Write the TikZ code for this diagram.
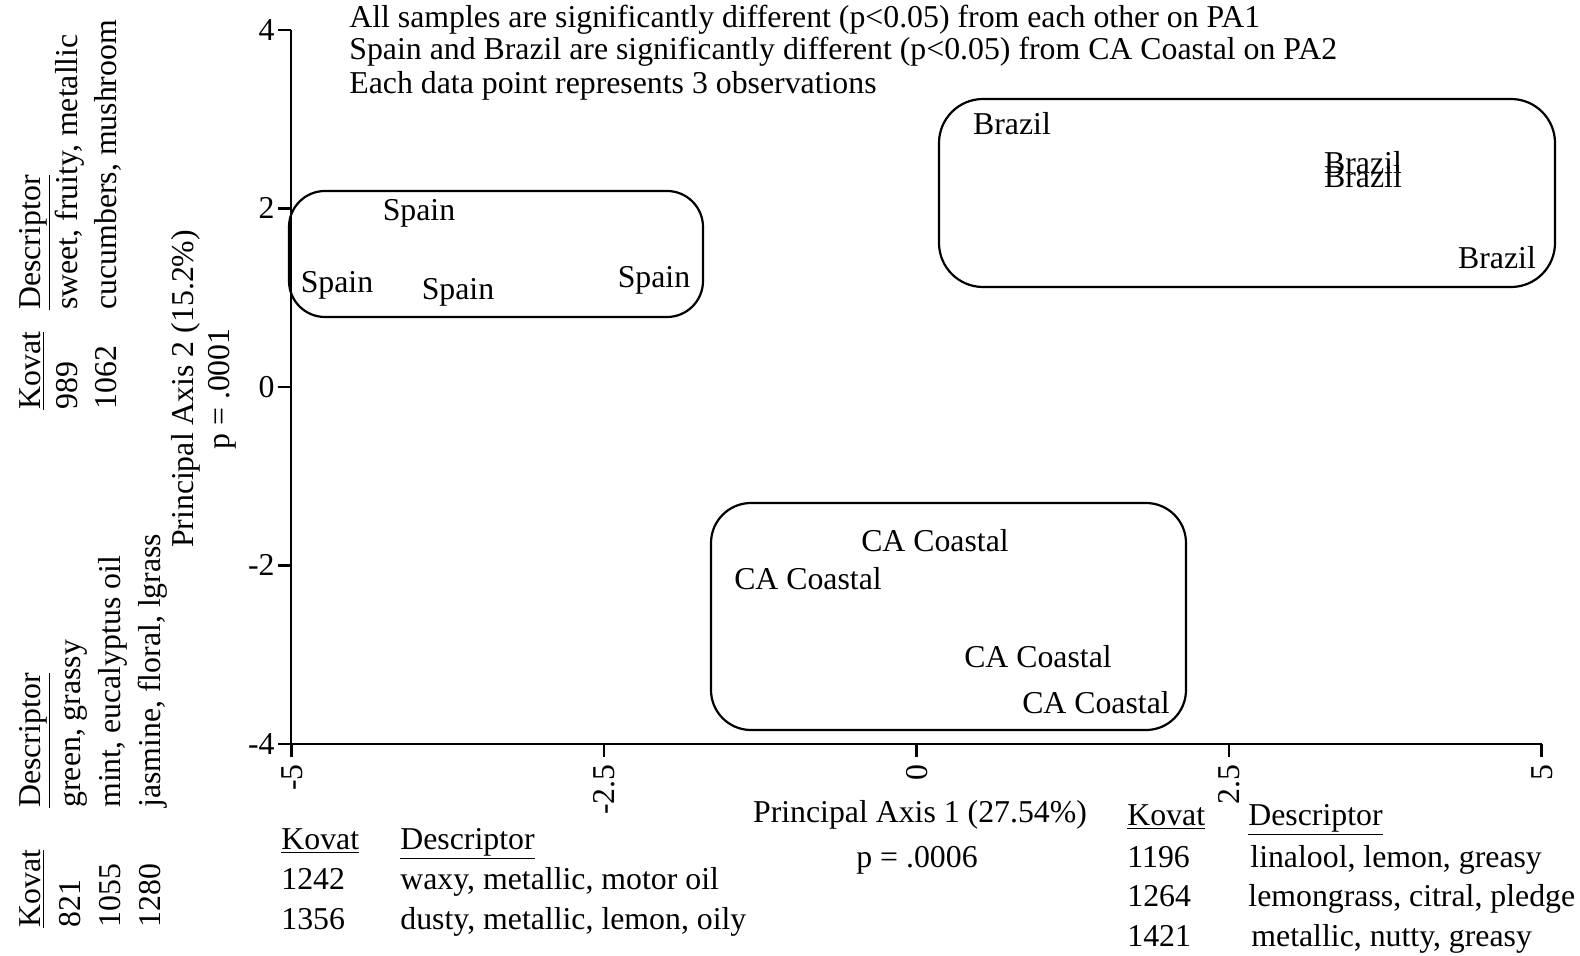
\documentclass[tikz,border=0pt]{standalone}
\usepackage{fontspec}
\setmainfont{Liberation Serif}
\begin{document}
\begin{tikzpicture}[x=0.5pt,y=-0.5pt,
  txt/.style={inner sep=0pt,text height=11pt,text depth=3pt,font=\fontsize{15.9}{16}\selectfont},
  lbl/.style={txt,anchor=west},
  rlbl/.style={txt,anchor=west,rotate=90},
  axisline/.style={line width=1.3pt},
  grp/.style={line width=1.1pt,rounded corners=18pt}]
\useasboundingbox (0,0) rectangle (1580,956);
% axes
\coordinate (o) at (291,744);
\coordinate (ytop) at (291,30);
\coordinate (xend) at (1542,744);
\draw[axisline] (ytop) -- (o) -- (xend);
% y ticks
\foreach \v/\t in {4/4,2/2,0/0,-2/-2,-4/-4}{
  \coordinate (yt\t) at (291,387-89.25*\v);
  \draw[axisline] (yt\t) -- ++(-13,0);
  \node[txt,anchor=east] (ylab\t) at (275,389.5-89.25*\v) {\t};
}
% x ticks
\foreach \u/\t/\n in {-5/-5/a,-2.5/-2.5/b,0/0/c,2.5/2.5/d,5/5/e}{
  \coordinate (xt\n) at (916.5+125*\u,744);
  \draw[axisline] (xt\n) -- ++(0,13);
  \node[txt,anchor=east,rotate=90] (xlab\n) at (919+125*\u,764) {\t};
}
% group boxes
\draw[grp] (289,191) rectangle (703,317);
\draw[grp,rounded corners=22pt] (939,99) rectangle (1555,287);
\draw[grp,rounded corners=20pt] (711,503) rectangle (1186,730);
% points
\node[txt] (s1) at (419,213) {Spain};
\node[txt] (s2) at (337,285) {Spain};
\node[txt] (s3) at (458,292) {Spain};
\node[txt] (s4) at (654,280) {Spain};
\node[txt] (b1) at (1012,127) {Brazil};
\node[txt] (b2) at (1363,166) {Brazil};
\node[txt] (b3) at (1363,180) {Brazil};
\node[txt] (b4) at (1497,261) {Brazil};
\node[txt] (c1) at (935,544) {CA Coastal};
\node[txt] (c2) at (808,582) {CA Coastal};
\node[txt] (c3) at (1038,660) {CA Coastal};
\node[txt] (c4) at (1096,705) {CA Coastal};
% notes
\node[lbl] (n1) at (349,20) {All samples are significantly different (p<0.05) from each other on PA1};
\node[lbl] (n2) at (349,52) {Spain and Brazil are significantly different (p<0.05) from CA Coastal on PA2};
\node[lbl] (n3) at (349,86) {Each data point represents 3 observations};
% axis titles
\node[txt] (xt1) at (920,814) {Principal Axis 1 (27.54\%)};
\node[txt] (xt2) at (917,859) {p = .0006};
\node[txt,rotate=90] (yt1) at (185,389) {Principal Axis 2 (15.2\%)};
\node[txt,rotate=90] (yt2) at (221,389) {p = .0001};
% bottom middle table
\node[lbl] (bm1) at (281,841) {\underline{Kovat}};
\node[lbl] (bm2) at (400,841) {\underline{Descriptor}};
\node[lbl] (bm3) at (281,881.5) {1242};
\node[lbl] (bm4) at (400,881.5) {waxy, metallic, motor oil};
\node[lbl] (bm5) at (281,921.5) {1356};
\node[lbl] (bm6) at (400,921.5) {dusty, metallic, lemon, oily};
% bottom right table
\node[lbl] (br1) at (1127,817) {\underline{Kovat}};
\node[lbl] (br2) at (1248,817) {\underline{Descriptor}};
\node[lbl] (br3) at (1127,859.5) {1196};
\node[lbl] (br4) at (1250,859.5) {linalool, lemon, greasy};
\node[lbl] (br5) at (1127,898.5) {1264};
\node[lbl] (br6) at (1248,898.5) {lemongrass, citral, pledge};
\node[lbl] (br7) at (1127,938.5) {1421};
\node[lbl] (br8) at (1251,938.5) {metallic, nutty, greasy};
% top left table (rotated)
\node[rlbl] (tl1) at (32,410) {\underline{Kovat}};
\node[rlbl] (tl2) at (32,310) {\underline{Descriptor}};
\node[rlbl] (tl3) at (69,410) {989};
\node[rlbl] (tl4) at (69,310) {sweet, fruity, metallic};
\node[rlbl] (tl5) at (108,410) {1062};
\node[rlbl] (tl6) at (108,310) {cucumbers, mushroom};
% bottom left table (rotated)
\node[rlbl] (bl1) at (32,928) {\underline{Kovat}};
\node[rlbl] (bl2) at (32,808) {\underline{Descriptor}};
\node[rlbl] (bl3) at (72,928) {821};
\node[rlbl] (bl4) at (72,808) {green, grassy};
\node[rlbl] (bl5) at (112,928) {1055};
\node[rlbl] (bl6) at (112,808) {mint, eucalyptus oil};
\node[rlbl] (bl7) at (152,928) {1280};
\node[rlbl] (bl8) at (152,808) {jasmine, floral, lgrass};
\end{tikzpicture}
\end{document}
